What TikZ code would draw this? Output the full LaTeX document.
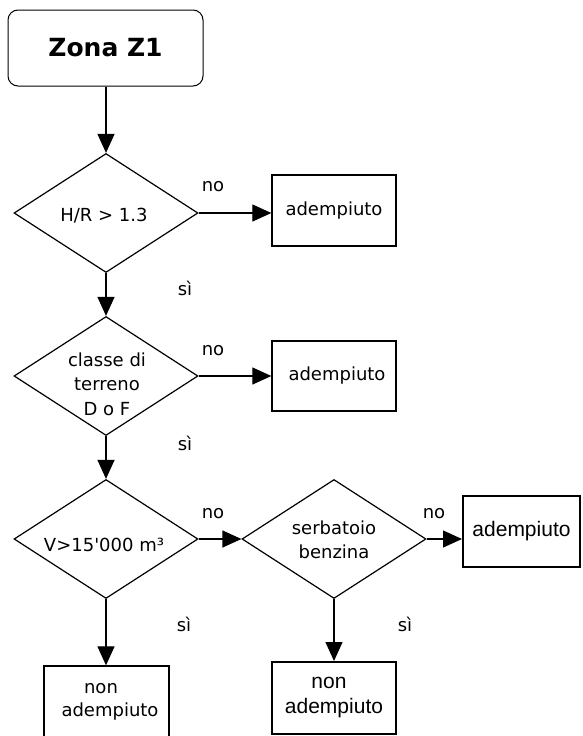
\documentclass[tikz,border=0pt]{standalone}
\usepackage{fontspec}
\setmainfont{DejaVu Sans}
\newfontfamily\arialf{Liberation Sans}
\usetikzlibrary{arrows.meta,shapes.geometric}
\begin{document}
\begin{tikzpicture}[x=1pt,y=-1pt,
  conn/.style={line width=1.2pt,-{Triangle[length=19pt,width=17pt]}},
  dia/.style={diamond,draw,line width=1.2pt,minimum width=184pt,minimum height=119pt,inner sep=0pt},
  lbl/.style={font=\fontsize{18}{24.5}\selectfont,inner sep=0pt,align=center},
  res/.style={draw,line width=1.3pt,inner sep=0pt,align=center,font=\fontsize{18}{23}\selectfont},
  thickres/.style={res,line width=2pt,font=\arialf\fontsize{21}{25}\selectfont},
]
\useasboundingbox (0,0) rectangle (582,736);
% start
\node[draw,rounded corners=10pt,line width=1pt,minimum width=195pt,minimum height=76pt,inner sep=0pt,
  font=\bfseries\fontsize{25}{30}\selectfont] (start) at (105.5,48) {Zona Z1};
% decisions
\node[dia] (d1) at (106,213) {};
\node[lbl] (t1) at (104,216) {H/R > 1.3};
\node[dia] (d2) at (106,376) {};
\node[lbl] (t2) at (107,384) {classe di\\terreno\\D o F};
\node[dia] (d3) at (106,539) {};
\node[lbl] (t3) at (104,545) {V>15\textquotesingle 000 m³};
\node[dia] (d4) at (334,539) {};
\node[lbl] (t4) at (334,540) {serbatoio\\benzina};
% results
\node[res,minimum width=124pt,minimum height=71pt] (a1) at (334,210.5) {adempiuto};
\node[res,minimum width=124pt,minimum height=70pt] (a2) at (334,376) {\hspace*{6pt}adempiuto};
\node[thickres,minimum width=117pt,minimum height=71pt] (a3) at (521.5,531.5) {adempiuto};
\node[res,minimum width=125pt,minimum height=72pt] (a4) at (106.5,702) {non\hspace*{11pt}\\\hspace*{7pt}adempiuto};
\node[thickres,minimum width=124pt,minimum height=72pt] (a5) at (334,698) {non\hspace*{10pt}\\adempiuto};
% connectors
\draw[conn] (d1.north |- start.south) -- (d1.north);
\draw[conn] (d1.east) -- (d1.east -| a1.west);
\draw[conn] (d1.south) -- (d2.north);
\draw[conn] (d2.east) -- (d2.east -| a2.west);
\draw[conn] (d2.south) -- (d3.north);
\draw[conn] (d3.east) -- (d4.west);
\draw[conn] (d4.east) -- (d4.east -| a3.west);
\draw[conn] (d3.south) -- (d3.south |- a4.north);
\draw[conn] (d4.south) -- (a5.north);
% labels
\node[lbl] (n1) at (213,187) {no};
\node[lbl] (s1) at (185,288) {sì};
\node[lbl] (n2) at (213,351) {no};
\node[lbl] (s2) at (185,443) {sì};
\node[lbl] (n3) at (213,514) {no};
\node[lbl] (n4) at (434,514) {no};
\node[lbl] (s3) at (184,624) {sì};
\node[lbl] (s4) at (405,624) {sì};
\end{tikzpicture}
\end{document}
